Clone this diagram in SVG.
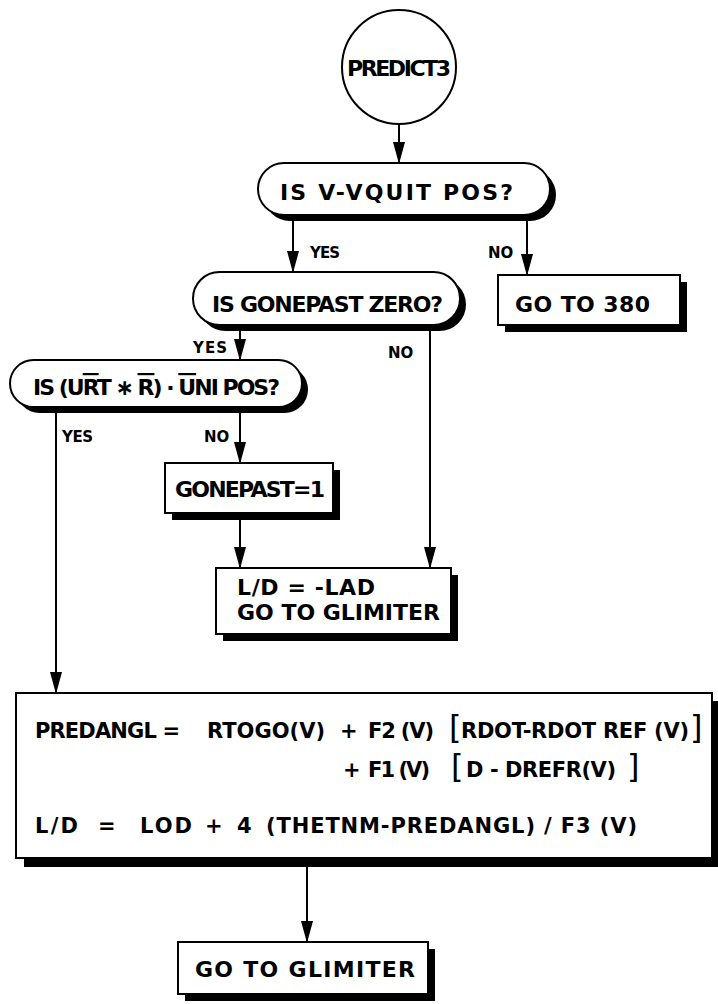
<svg xmlns="http://www.w3.org/2000/svg" width="718" height="1004" viewBox="0 0 718 1004">
<style>
.t{font-family:"DejaVu Sans","Liberation Sans",Arial,sans-serif;font-weight:bold;font-size:22px;fill:#000}
.m{font-size:21px}
.s{font-size:15px}
.br{font-size:32px;font-weight:normal}
.box{fill:#fff;stroke:#000;stroke-width:2}
.sh{fill:#000}
.c{stroke:#000;stroke-width:2;fill:none;marker-end:url(#ah)}
.ol{text-decoration:overline}
</style>
<defs>
<marker id="ah" markerUnits="userSpaceOnUse" markerWidth="22" markerHeight="12" viewBox="0 0 22 12" refX="21" refY="6" orient="auto">
<path d="M0,0 L22,6 L0,12 z" fill="#000"/>
</marker>
</defs>
<rect width="718" height="1004" fill="#fff"/>
<g id="connectors">
<line class="c" x1="399" y1="124" x2="399" y2="163"/>
<line class="c" x1="293" y1="215" x2="293" y2="272"/>
<line class="c" x1="527" y1="215" x2="527" y2="275"/>
<line class="c" x1="240" y1="325" x2="240" y2="360"/>
<line class="c" x1="430" y1="325" x2="430" y2="568"/>
<line class="c" x1="56" y1="407" x2="56" y2="693"/>
<line class="c" x1="240" y1="407" x2="240" y2="463"/>
<line class="c" x1="240" y1="513" x2="240" y2="568"/>
<line class="c" x1="307" y1="858" x2="307" y2="942"/>
<text class="t s" x="310" y="258" textLength="30">YES</text>
<text class="t s" x="488" y="258">NO</text>
<text class="t s" x="193" y="353" textLength="34">YES</text>
<text class="t s" x="388" y="358">NO</text>
<text class="t s" x="62" y="442" textLength="31">YES</text>
<text class="t s" x="204" y="442">NO</text>
</g>
<g id="n-predict3">
<circle class="box" cx="399" cy="67" r="57"/>
<text class="t" x="347" y="76" textLength="104" font-size="19">PREDICT3</text>
</g>
<g id="n-vquit">
<rect class="sh" x="264" y="169" width="292" height="52" rx="26"/>
<rect class="box" x="258" y="163" width="292" height="52" rx="26"/>
<text class="t" x="280" y="200" textLength="233">IS V-VQUIT POS?</text>
</g>
<g id="n-gonepast-zero">
<rect class="sh" x="199" y="278" width="267" height="53" rx="26.5"/>
<rect class="box" x="193" y="272" width="267" height="53" rx="26.5"/>
<text class="t" x="212" y="312" textLength="231">IS GONEPAST ZERO?</text>
</g>
<g id="n-goto380">
<rect class="sh" x="505" y="282" width="182" height="50"/>
<rect class="box" x="498" y="275" width="182" height="50"/>
<text class="t" x="515" y="312" textLength="135">GO TO 380</text>
</g>
<g id="n-uni">
<rect class="sh" x="16" y="366" width="292" height="47" rx="23.5"/>
<rect class="box" x="10" y="360" width="292" height="47" rx="23.5"/>
<text class="t" font-size="20" x="33" y="395" textLength="247">IS (U<tspan class="ol">R</tspan>T ∗ <tspan class="ol">R</tspan>) · <tspan class="ol">U</tspan>NI POS?</text>
</g>
<g id="n-gonepast1">
<rect class="sh" x="172" y="470" width="168" height="50"/>
<rect class="box" x="165" y="463" width="168" height="50"/>
<text class="t" font-size="21" x="175" y="497" textLength="150">GONEPAST=1</text>
</g>
<g id="n-lad">
<rect class="sh" x="223" y="575" width="235" height="66"/>
<rect class="box" x="216" y="568" width="235" height="66"/>
<text class="t" x="237" y="595" textLength="138">L/D = -LAD</text>
<text class="t" x="237" y="620" textLength="203">GO TO GLIMITER</text>
</g>
<g id="n-predangl">
<rect class="sh" x="24" y="701" width="700" height="166"/>
<rect class="box" x="16" y="693" width="696" height="165"/>
<text class="t m" x="35" y="738" textLength="145">PREDANGL =</text>
<text class="t m" x="207" y="738" textLength="118">RTOGO(V)</text>
<text class="t m" x="340" y="738">+</text>
<text class="t m" x="368" y="738" textLength="66">F2 (V)</text>
<text class="t br" x="449" y="738">[</text>
<text class="t m" x="461" y="738" textLength="228">RDOT-RDOT REF (V)</text>
<text class="t br" x="690" y="738">]</text>
<text class="t m" x="343" y="777">+</text>
<text class="t m" x="368" y="777" textLength="62">F1 (V)</text>
<text class="t br" x="451" y="777">[</text>
<text class="t m" x="466" y="777" textLength="150">D - DREFR(V)</text>
<text class="t br" x="627" y="777">]</text>
<text class="t m" x="35" y="833" textLength="43">L/D</text>
<text class="t m" x="98" y="833">=</text>
<text class="t m" x="140" y="833" textLength="52">LOD</text>
<text class="t m" x="205" y="833">+</text>
<text class="t m" x="237" y="833">4</text>
<text class="t m" x="266" y="833" textLength="371">(THETNM-PREDANGL) / F3 (V)</text>
</g>
<g id="n-glimiter">
<rect class="sh" x="185" y="949" width="250" height="52"/>
<rect class="box" x="178" y="942" width="250" height="52"/>
<text class="t" x="195" y="977" textLength="220">GO TO GLIMITER</text>
</g>
</svg>
